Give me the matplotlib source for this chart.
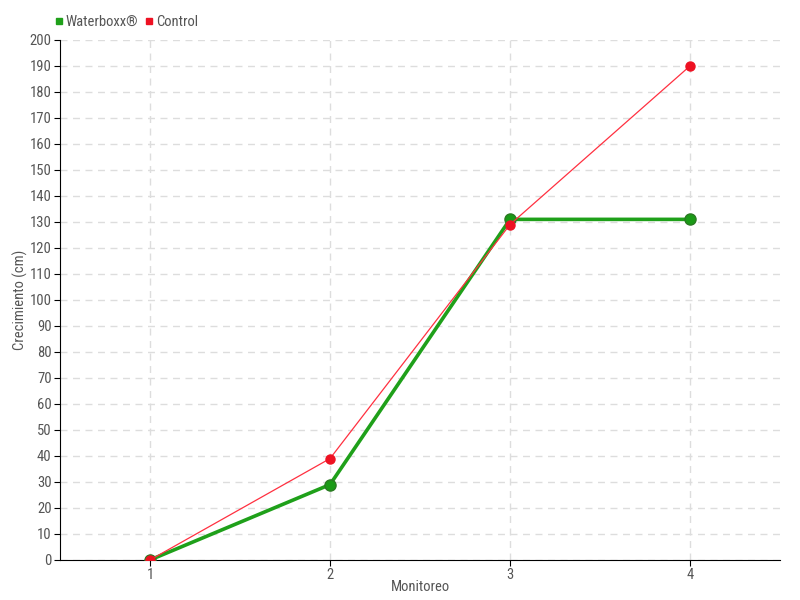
import matplotlib
matplotlib.use("Agg")
import matplotlib.pyplot as plt
from matplotlib import font_manager
from matplotlib.lines import Line2D

names = {f.name for f in font_manager.fontManager.ttflist}
fam = ['DejaVu Sans']
for cand in ['Liberation Sans Narrow', 'DejaVu Sans Condensed', 'Roboto Condensed']:
    if cand in names:
        fam = [cand, 'DejaVu Sans']
        break
plt.rcParams['font.family'] = fam
plt.rcParams['font.stretch'] = 'condensed'

monitoreo = [1, 2, 3, 4]
waterboxx = [0, 29, 131, 131]
control = [0, 39, 129, 190]
yticks = list(range(0, 201, 10))

fig = plt.figure(figsize=(8, 6), dpi=100)
ax = fig.add_axes([0.075, 0.0667, 0.9, 0.8667])

ax.plot(monitoreo, waterboxx, color='#1fa01a', lw=2.6, marker='o', ms=8,
        markerfacecolor='#1a9a16', markeredgecolor='#2a7a22', zorder=3, label='Waterboxx®')
ax.plot(monitoreo, control, color='#ff3040', lw=0.9, marker='o', ms=6.5,
        markerfacecolor='#ee1122', markeredgecolor='#ee1122', zorder=4, label='Control')

ax.set_xlim(0.5, 4.5)
ax.set_ylim(0, 200)
ax.set_xticks(monitoreo)
ax.set_yticks(yticks)
ax.grid(True, color='#dddddd', linestyle=(0, (5, 4)), lw=1)
ax.set_axisbelow(True)
for s in ['top', 'right']:
    ax.spines[s].set_visible(False)
ax.spines['left'].set_color('black')
ax.spines['bottom'].set_color('black')
ax.tick_params(axis='both', direction='out', length=4, color='black', labelcolor='#555555',
               labelsize=10.5, pad=2)
ax.set_xlabel('Monitoreo', color='#555555', fontsize=10.5, labelpad=-2)
ax.set_ylabel('Crecimiento (cm)', color='#555555', fontsize=10.5, labelpad=1)

h = [Line2D([], [], marker='s', ls='none', color='#1fa01a', ms=4.5),
     Line2D([], [], marker='s', ls='none', color='#ee1122', ms=4.5)]
fig.legend(h, ['Waterboxx®', 'Control'], loc='upper left', bbox_to_anchor=(0.053, 0.997),
           ncol=2, frameon=False, fontsize=10.5, handlelength=0.5, handletextpad=0.2,
           columnspacing=0.5, labelcolor='#555555')

fig.savefig('out.png', dpi=100)
